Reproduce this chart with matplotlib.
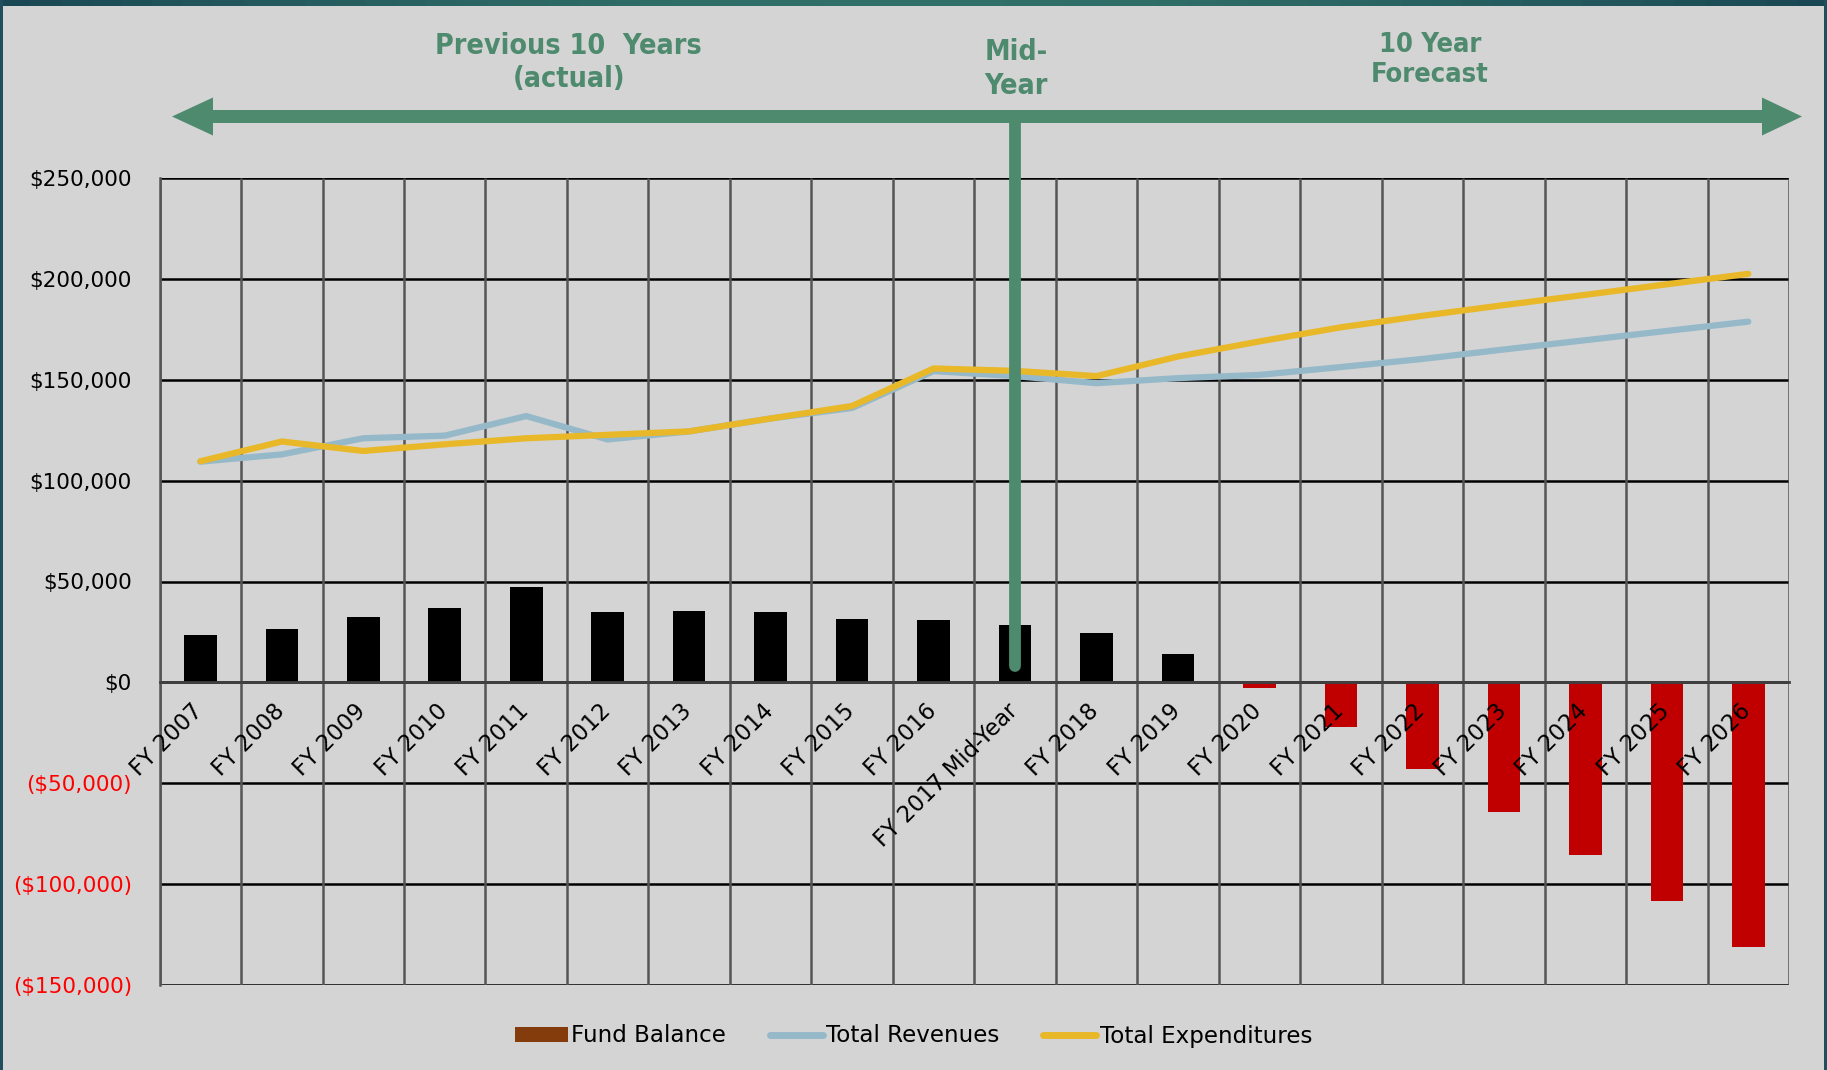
import matplotlib
matplotlib.use("Agg")
import matplotlib.pyplot as plt
import matplotlib.transforms as mtransforms
from matplotlib.patches import Polygon, Patch, Rectangle
from matplotlib.lines import Line2D
import numpy as np

categories = ["FY 2007", "FY 2008", "FY 2009", "FY 2010", "FY 2011", "FY 2012",
              "FY 2013", "FY 2014", "FY 2015", "FY 2016", "FY 2017 Mid-Year",
              "FY 2018", "FY 2019", "FY 2020", "FY 2021", "FY 2022", "FY 2023",
              "FY 2024", "FY 2025", "FY 2026"]
fund_balance = [23500, 26500, 32500, 37000, 47500, 35000, 35500, 35000, 31500, 31000,
                28600, 24700, 14200, -2900, -22000, -42800, -64200, -85600, -108200, -131400]
total_revenues = [109400, 113000, 121000, 122300, 132000, 120400, 124400, 130800, 136000, 154300,
                  151800, 148300, 150800, 152400, 156300, 160300, 165000, 169600, 174200, 178800]
total_expenditures = [109600, 119400, 114700, 118000, 121000, 122700, 124400, 130800, 137000, 155600,
                      154400, 151800, 161500, 169000, 176000, 181700, 187000, 192100, 197300, 202500]
y_ticks = [-150000, -100000, -50000, 0, 50000, 100000, 150000, 200000, 250000]

BG = "#D4D4D4"
GREEN = "#4E8A6E"
BLUE = "#96B9C9"
YELLOW = "#E8B829"
RED = "#C00000"
W, H = 1827, 1070

plt.rcParams['font.family'] = ['DejaVu Sans']
fig = plt.figure(figsize=(W / 100, H / 100), dpi=100, facecolor=BG)

# frame decorations
for i, c in enumerate(np.linspace(0, 1, 60)):
    col = (0.10 + 0.09 * np.sin(np.pi * c), 0.28 + 0.16 * np.sin(np.pi * c), 0.33 + 0.08 * np.sin(np.pi * c))
    fig.add_artist(Rectangle((i / 60, 1 - 6 / H), 1 / 60 + 0.001, 6 / H, transform=fig.transFigure,
                             color=col, lw=0))
fig.add_artist(Rectangle((0, 0), 3 / W, 1, transform=fig.transFigure, color="#1F4E5F", lw=0))
fig.add_artist(Rectangle((1 - 3 / W, 0), 3 / W, 1, transform=fig.transFigure, color="#1F4E5F", lw=0))

ax = fig.add_axes([159.6 / W, 85 / H, (1789 - 159.6) / W, (985 - 178) / H])
ax.set_facecolor(BG)

# spine position first (it resets tick settings)
ax.spines['bottom'].set_position(('data', 0))
ax.spines['bottom'].set_color("#404040")
ax.spines['bottom'].set_linewidth(2)
ax.spines['bottom'].set_zorder(3.5)
ax.spines['left'].set_color("#555555")
ax.spines['left'].set_linewidth(1.8)
ax.spines['top'].set_visible(False)
ax.spines['right'].set_visible(False)

n = len(categories)
x = np.arange(n)
ax.set_xlim(-0.5, n - 0.5)
ax.set_ylim(-150000, 250000)

# gridlines (drawn below bars)
ax.hlines(y_ticks, -0.5, n - 0.5, color="black", lw=1.8, zorder=1)
ax.vlines(np.arange(-0.5, n, 1), y_ticks[0], y_ticks[-1], color="#555555", lw=1.8, zorder=1)

bar_colors = ["black" if v >= 0 else RED for v in fund_balance]
ax.bar(x, fund_balance, width=0.4, color=bar_colors, zorder=3)
ax.plot(x, total_revenues, color=BLUE, lw=4.5, zorder=4, solid_capstyle='round')
ax.plot(x, total_expenditures, color=YELLOW, lw=4.5, zorder=5, solid_capstyle='round')

ax.set_yticks(y_ticks)
ylabels = []
for v in y_ticks:
    if v < 0:
        ylabels.append("(${:,.0f})".format(-v))
    else:
        ylabels.append("${:,.0f}".format(v))
ax.set_yticklabels(ylabels, fontsize=15.5)
for lab, v in zip(ax.get_yticklabels(), y_ticks):
    lab.set_color("#FF0000" if v < 0 else "black")
ax.tick_params(axis='y', length=0, pad=20)

ax.set_xticks(x)
ax.set_xticklabels(categories, rotation=45, ha='right', va='top',
                   rotation_mode='anchor', fontsize=16.3)
ax.tick_params(axis='x', which='major', length=0, pad=12)
shift = mtransforms.ScaledTranslation(-9 / 100, 0, fig.dpi_scale_trans)
for lab in ax.get_xticklabels():
    lab.set_transform(lab.get_transform() + shift)
ax.xaxis.set_zorder(6)
ax.yaxis.set_zorder(6)

# green timeline arrow
def fx(px):
    return px / W
def fy(py):
    return 1 - py / H
yc = 116.5
pts = [(172, yc), (213, yc - 19), (213, yc - 6.5), (1762, yc - 6.5), (1762, yc - 19), (1802, yc),
       (1762, yc + 19), (1762, yc + 6.5), (213, yc + 6.5), (213, yc + 19)]
fig.add_artist(Polygon([(fx(a), fy(b)) for a, b in pts], closed=True, transform=fig.transFigure,
                       facecolor=GREEN, edgecolor='none', zorder=10))
trans = mtransforms.blended_transform_factory(ax.transData, fig.transFigure)
mid_idx = categories.index("FY 2017 Mid-Year")
fig.add_artist(Line2D([mid_idx, mid_idx], [fy(116), fy(666)], transform=trans, color=GREEN,
                      lw=8.5, solid_capstyle='round', zorder=10))

title_kw = dict(ha='center', va='center', color=GREEN, fontweight='bold',
                family=['DejaVu Sans'], fontstretch='condensed')
fig.text(fx(568.6), fy(62.5), "Previous 10  Years\n(actual)", fontsize=20.5, linespacing=1.25, **title_kw)
fig.text(fx(1016), fy(69), "Mid-\nYear", fontsize=20.5, linespacing=1.3, **title_kw)
fig.text(fx(1430), fy(60.5), "10 Year\nForecast", fontsize=19.5, linespacing=1.2, **title_kw)

handles = [Patch(facecolor="#843C0C", edgecolor='none'),
           Line2D([0], [0], color=BLUE, lw=5, solid_capstyle='round'),
           Line2D([0], [0], color=YELLOW, lw=5, solid_capstyle='round')]
fig.legend(handles, ["Fund Balance", "Total Revenues", "Total Expenditures"],
           loc='center', bbox_to_anchor=(0.5, fy(1036)), ncol=3, frameon=False,
           fontsize=16.6, handlelength=2.3, handletextpad=0.15, columnspacing=1.9,
           handleheight=0.6)

fig.savefig("out.png", dpi=100, facecolor=BG)
